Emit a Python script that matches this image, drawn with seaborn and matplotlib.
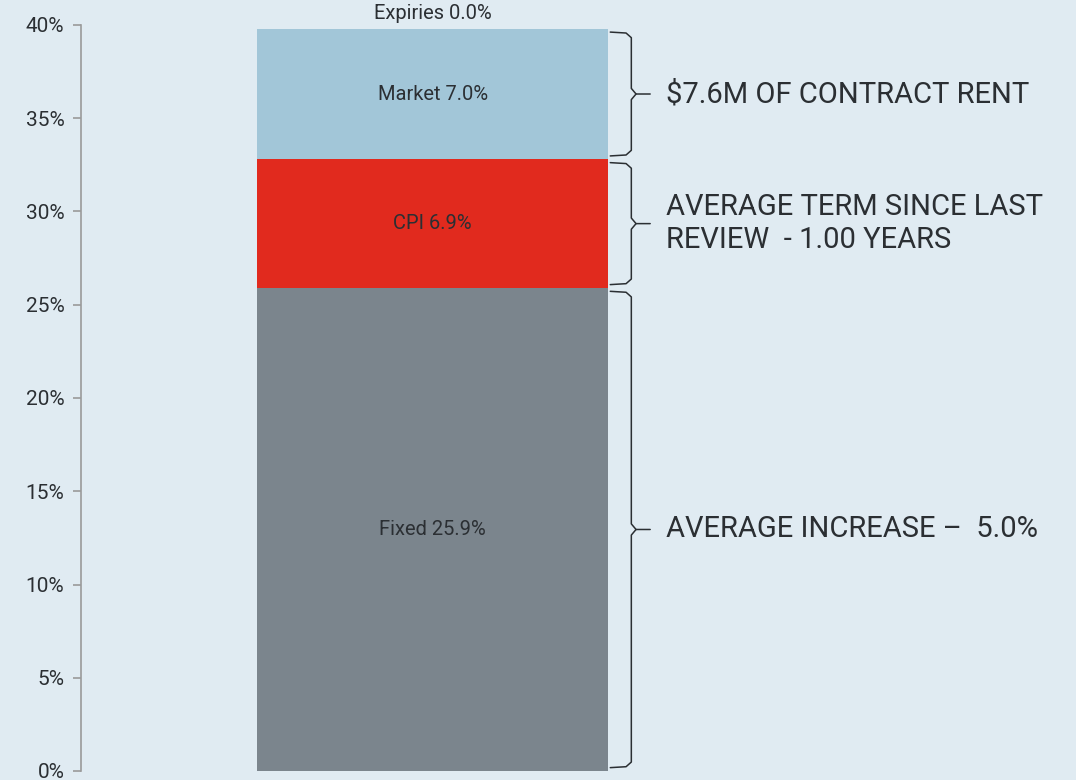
import numpy as np
import pandas as pd
import matplotlib
matplotlib.use("Agg")
import matplotlib.pyplot as plt
import seaborn as sns

# segments, bottom to top
segments = ["Fixed", "CPI", "Market", "Expiries"]
values = [25.9, 6.9, 7.0, 0.0]
seg_colors = ["#7b858d", "#e12a1e", "#a2c6d8", "#a2c6d8"]

# notes next to the braces: (segment, text)
brace_notes = [
    ("Fixed", "AVERAGE INCREASE \u2013  5.0%"),
    ("CPI", "AVERAGE TERM SINCE LAST\nREVIEW  - 1.00 YEARS"),
    ("Market", "$7.6M OF CONTRACT RENT"),
]
y_ticks = [0, 5, 10, 15, 20, 25, 30, 35, 40]

bg = "#e0ebf2"
txt = "#2b2f33"

sns.set_style("white")
plt.rcParams["font.family"] = ["Roboto", "DejaVu Sans"]

df = pd.DataFrame({"segment": segments, "value": values})
df["top"] = df["value"].cumsum()
df["bottom"] = df["top"] - df["value"]
df["group"] = "All"

fig = plt.figure(figsize=(10.76, 7.80), dpi=100, facecolor=bg)
ax = fig.add_axes([81 / 1076, 9 / 780, 995 / 1076, 746 / 780])
ax.set_facecolor(bg)

# stacked bar: draw cumulative totals from the top down
for i in range(len(df) - 1, -1, -1):
    row = df.iloc[[i]]
    sns.barplot(data=row, x="group", y="top", color=seg_colors[i],
                width=0.8, saturation=1, ax=ax, linewidth=0)

for _, r in df.iterrows():
    label = f"{r['segment']} {r['value']:.1f}%"
    if r["value"] > 0:
        ax.text(0, (r["bottom"] + r["top"]) / 2, label, ha="center", va="center",
                fontsize=14.5, color=txt)
    else:
        ax.text(0, r["top"] + 0.3, label, ha="center", va="bottom",
                fontsize=14.5, color=txt)


def brace(ax, x0, y0, y1, depth=0.048, tip=0.043):
    # curly brace opening left, spanning y0..y1 in data units
    ym = (y0 + y1) / 2
    c = 0.3
    top = np.array([
        [x0, y1], [x0 + depth * 0.75, y1 - 0.05], [x0 + depth, y1 - c], [x0 + depth, ym + c],
        [x0 + depth + tip * 0.25, ym], [x0 + depth + tip, ym],
    ])
    bot = np.array([
        [x0, y0], [x0 + depth * 0.75, y0 + 0.05], [x0 + depth, y0 + c], [x0 + depth, ym - c],
        [x0 + depth + tip * 0.25, ym],
    ])
    ax.plot(top[:, 0], top[:, 1], color=txt, lw=1.1, solid_capstyle="round")
    ax.plot(bot[:, 0], bot[:, 1], color=txt, lw=1.1, solid_capstyle="round")
    return x0 + depth + tip


seg_idx = {s: i for i, s in enumerate(segments)}
for seg, note in brace_notes:
    y0 = df.loc[seg_idx[seg], "bottom"]
    y1 = df.loc[seg_idx[seg], "top"]
    xe = brace(ax, 0.4 + 0.005, y0 + 0.18, y1 - 0.18)
    ax.text(xe + 0.037, (y0 + y1) / 2, note, ha="left", va="center",
            fontsize=21, color=txt, linespacing=1.25)

ax.set_xlim(-0.8013, 1.4665)
ax.set_ylim(0, 40)
ax.set_yticks(y_ticks)
ax.set_yticklabels([f"{t}%" for t in y_ticks])
ax.tick_params(axis="y", length=6, width=1.2, color="#9a9a9a", labelsize=15,
               labelcolor=txt, left=True, pad=6)
ax.set_xticks([])
ax.set_xlabel("")
ax.set_ylabel("")
for s in ["top", "right", "bottom"]:
    ax.spines[s].set_visible(False)
ax.spines["left"].set_color("#9a9a9a")
ax.spines["left"].set_linewidth(1.2)
for artist in ax.lines + ax.texts:
    artist.set_clip_on(False)

fig.savefig("out.png", dpi=100, facecolor=bg)
